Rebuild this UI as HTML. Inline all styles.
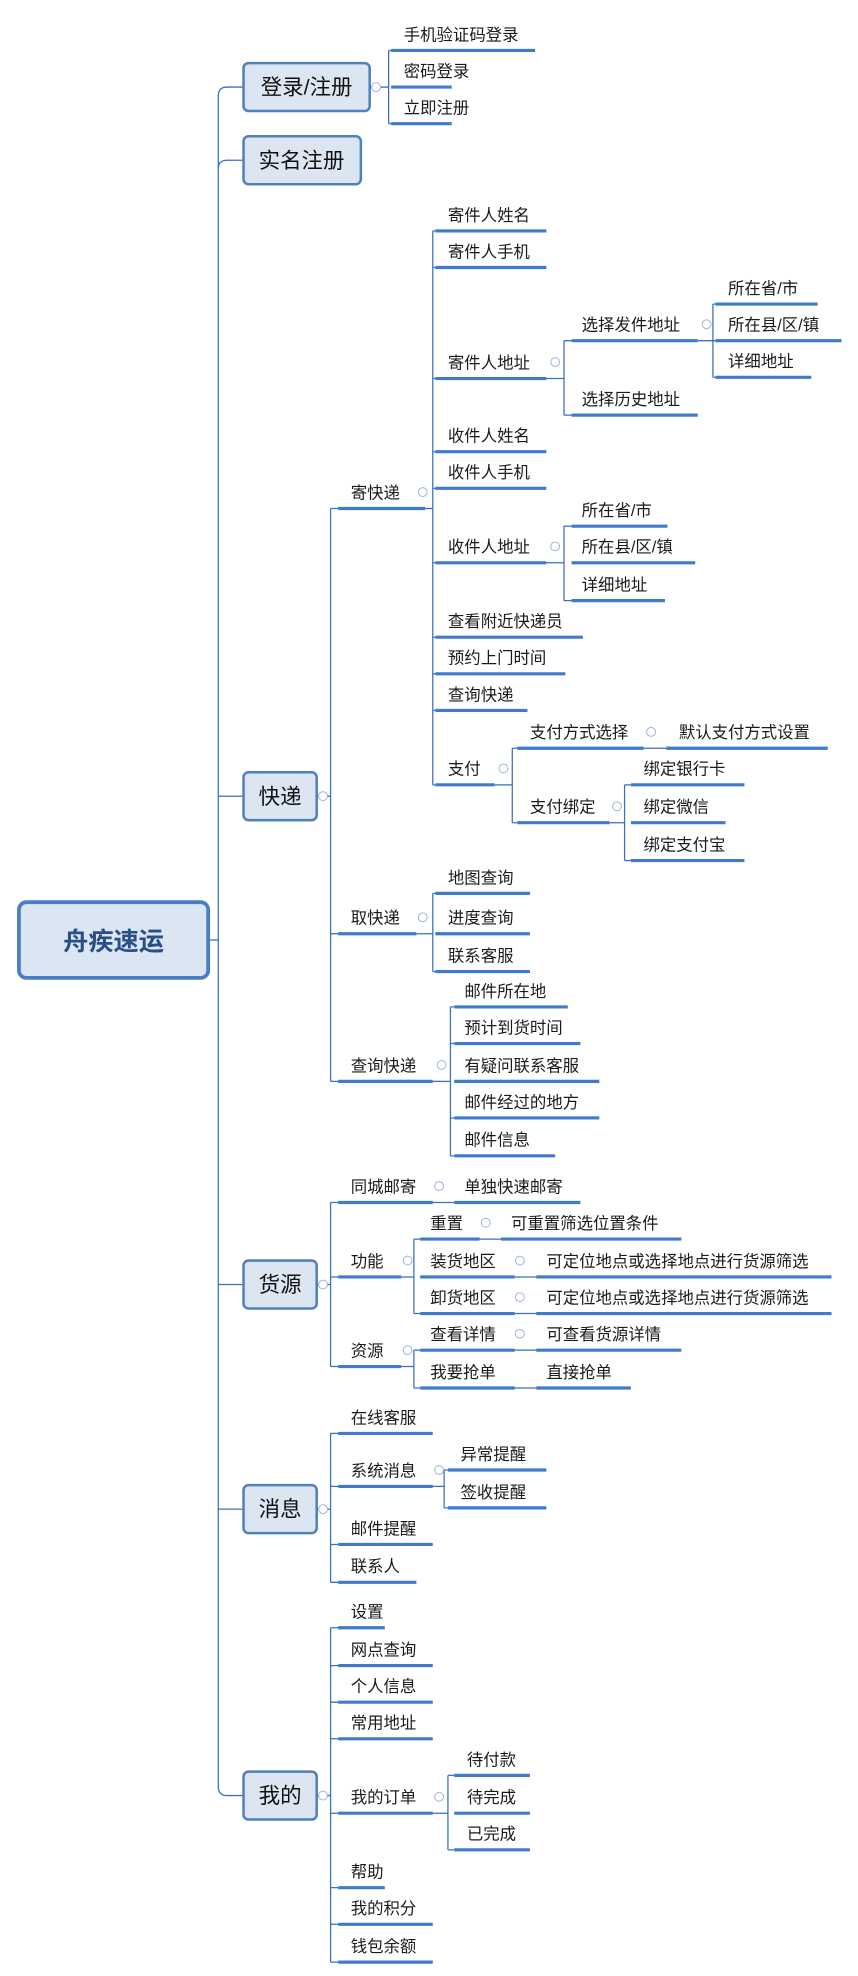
<!DOCTYPE html>
<html><head><meta charset="utf-8"><style>
html,body{margin:0;padding:0;background:#fff;}
svg{display:block;}
text{font-family:"Liberation Sans","Noto Sans CJK SC",sans-serif;font-size:13px;fill:#1a1a1a;}
.u{stroke:#3f7bcc;stroke-width:2.5;fill:none;}
.c{stroke:#3a6fc0;stroke-width:1;fill:none;}
.b{fill:#dce6f2;stroke:#4f81bd;stroke-width:2;}
.bt{font-size:17px;fill:#111;}
.o{fill:#fff;stroke:#9db4dc;stroke-width:0.8;}
</style></head><body>
<svg width="858" height="1976" viewBox="0 0 680 1566" preserveAspectRatio="none" xmlns="http://www.w3.org/2000/svg">
<!-- trunk -->
<path class="c" d="M165 745 H173 M173 76 V1416 M173 76 Q173 69 180 69 H193 M173 134 Q173 127 180 127 H193 M173 631 H193 M173 1018 H193 M173 1196 H193 M173 1416 Q173 1423 180 1423 H193"/>
<!-- root -->
<rect x="15" y="715" width="150" height="60" rx="6" fill="#dce6f2" stroke="#4a7ec4" stroke-width="3"/>
<text x="90" y="753" text-anchor="middle" style="font-size:20px;font-weight:bold;fill:#2a4f86">舟疾速运</text>
<!-- level1 boxes -->
<rect class="b" x="193" y="50" width="100" height="38" rx="4"/><text class="bt" x="243" y="75" text-anchor="middle">登录/注册</text>
<rect class="b" x="193" y="108" width="93" height="38" rx="4"/><text class="bt" x="239" y="133" text-anchor="middle">实名注册</text>
<rect class="b" x="193" y="612" width="58" height="38" rx="4"/><text class="bt" x="222" y="637" text-anchor="middle">快递</text>
<rect class="b" x="193" y="999" width="58" height="38" rx="4"/><text class="bt" x="222" y="1024" text-anchor="middle">货源</text>
<rect class="b" x="193" y="1177" width="58" height="38" rx="4"/><text class="bt" x="222" y="1202" text-anchor="middle">消息</text>
<rect class="b" x="193" y="1404" width="58" height="38" rx="4"/><text class="bt" x="222" y="1429" text-anchor="middle">我的</text>

<!-- connectors -->
<path class="c" d="
M293 69 H308 M308 40 V98 M308 40 H310 M308 98 H310
M251 631 H262 M262 403 V857 M262 403 H268 M262 740 H268 M262 857 H268
M337 403 H343 M343 183 V622 M343 183 H345 M343 212 H345 M343 300 H345 M343 358 H345 M343 387 H345 M343 446 H345 M343 505 H345 M343 534 H345 M343 563 H345 M343 622 H345
M433 300 H447 M447 270 V329 M447 270 H453 M447 329 H453
M553 270 H567 M565 241 V299 M565 241 H567 M565 299 H567
M433 446 H447 M447 417 V476 M447 417 H453 M447 476 H453
M392 622 H406 M406 593 V652 M406 593 H410 M406 652 H410
M510 593 H528
M483 652 H495 M495 622 V682 M495 622 H500 M495 682 H500
M330 740 H343 M343 708 V770 M343 708 H345 M343 770 H345
M343 857 H357 M357 798 V916 M357 798 H360 M357 827 H360 M357 886 H360 M357 916 H360
M251 1018 H262 M262 953 V1083 M262 953 H268 M262 1012 H268 M262 1083 H268
M343 953 H360
M318 1012 H328 M328 982 V1041 M328 982 H333 M328 1041 H333
M380 982 H397 M408 1012 H425 M408 1041 H425
M318 1083 H328 M328 1070 V1100 M328 1070 H333 M328 1100 H333
M408 1070 H425 M408 1100 H425
M251 1196 H262 M262 1136 V1254 M262 1136 H268 M262 1178 H268 M262 1224 H268 M262 1254 H268
M343 1178 H352 M352 1165 V1195 M352 1165 H355 M352 1195 H355
M251 1423 H262 M262 1290 V1555 M262 1290 H268 M262 1320 H268 M262 1349 H268 M262 1378 H268 M262 1437 H268 M262 1496 H268 M262 1525 H268 M262 1555 H268
M343 1437 H355 M355 1407 V1466 M355 1407 H360 M355 1466 H360
"/>

<!-- collapse circles -->
<g class="o">
<circle cx="298" cy="69" r="3.5"/><circle cx="256" cy="631" r="3.5"/><circle cx="335" cy="390" r="3.5"/>
<circle cx="440" cy="287" r="3.5"/><circle cx="560" cy="257" r="3.5"/><circle cx="440" cy="433" r="3.5"/>
<circle cx="399" cy="609" r="3.5"/><circle cx="516" cy="580" r="3.5"/><circle cx="489" cy="639" r="3.5"/>
<circle cx="335" cy="727" r="3.5"/><circle cx="350" cy="844" r="3.5"/>
<circle cx="256" cy="1018" r="3.5"/><circle cx="348" cy="940" r="3.5"/><circle cx="323" cy="999" r="3.5"/>
<circle cx="385" cy="969" r="3.5"/><circle cx="412" cy="999" r="3.5"/><circle cx="412" cy="1028" r="3.5"/>
<circle cx="323" cy="1070" r="3.5"/><circle cx="412" cy="1057" r="3.5"/>
<circle cx="256" cy="1196" r="3.5"/><circle cx="348" cy="1165" r="3.5"/>
<circle cx="256" cy="1423" r="3.5"/><circle cx="348" cy="1424" r="3.5"/>
</g>

<!-- underlines -->
<path class="u" d="
M310 40 H424 M310 69 H358 M310 98 H358
M268 403 H337 M345 183 H433 M345 212 H433 M345 300 H433 M453 270 H553 M567 241 H648 M567 270 H667 M567 299 H643 M453 329 H553
M345 358 H433 M345 387 H433 M345 446 H433 M453 417 H529 M453 446 H551 M453 476 H527
M345 505 H462 M345 534 H448 M345 563 H418 M345 622 H392
M410 593 H510 M528 593 H656 M410 652 H483 M500 622 H590 M500 652 H575 M500 682 H590
M268 740 H330 M345 708 H420 M345 740 H420 M345 770 H420
M268 857 H343 M360 798 H450 M360 827 H460 M360 857 H475 M360 886 H475 M360 916 H440
M268 953 H343 M360 953 H460 M268 1012 H318 M333 982 H380 M397 982 H540 M333 1012 H408 M425 1012 H659 M333 1041 H408 M425 1041 H659
M268 1083 H318 M333 1070 H408 M425 1070 H540 M333 1100 H408 M425 1100 H500
M268 1136 H343 M268 1178 H343 M355 1165 H433 M355 1195 H433 M268 1224 H343 M268 1254 H330
M268 1290 H305 M268 1320 H343 M268 1349 H343 M268 1378 H343 M268 1437 H343 M360 1407 H420 M360 1437 H420 M360 1466 H420
M268 1496 H305 M268 1525 H343 M268 1555 H343
"/>

<!-- texts -->
<text x="320" y="32">手机验证码登录</text><text x="320" y="61">密码登录</text><text x="320" y="90">立即注册</text>
<text x="278" y="395">寄快递</text>
<text x="355" y="175">寄件人姓名</text><text x="355" y="204">寄件人手机</text><text x="355" y="292">寄件人地址</text>
<text x="461" y="262">选择发件地址</text><text x="577" y="233">所在省/市</text><text x="577" y="262">所在县/区/镇</text><text x="577" y="291">详细地址</text>
<text x="461" y="321">选择历史地址</text>
<text x="355" y="350">收件人姓名</text><text x="355" y="379">收件人手机</text><text x="355" y="438">收件人地址</text>
<text x="461" y="409">所在省/市</text><text x="461" y="438">所在县/区/镇</text><text x="461" y="468">详细地址</text>
<text x="355" y="497">查看附近快递员</text><text x="355" y="526">预约上门时间</text><text x="355" y="555">查询快递</text><text x="355" y="614">支付</text>
<text x="420" y="585">支付方式选择</text><text x="538" y="585">默认支付方式设置</text><text x="420" y="644">支付绑定</text>
<text x="510" y="614">绑定银行卡</text><text x="510" y="644">绑定微信</text><text x="510" y="674">绑定支付宝</text>
<text x="278" y="732">取快递</text><text x="355" y="700">地图查询</text><text x="355" y="732">进度查询</text><text x="355" y="762">联系客服</text>
<text x="278" y="849">查询快递</text><text x="368" y="790">邮件所在地</text><text x="368" y="819">预计到货时间</text><text x="368" y="849">有疑问联系客服</text><text x="368" y="878">邮件经过的地方</text><text x="368" y="908">邮件信息</text>
<text x="278" y="945">同城邮寄</text><text x="368" y="945">单独快速邮寄</text>
<text x="278" y="1004">功能</text><text x="341" y="974">重置</text><text x="405" y="974">可重置筛选位置条件</text>
<text x="341" y="1004">装货地区</text><text x="433" y="1004">可定位地点或选择地点进行货源筛选</text>
<text x="341" y="1033">卸货地区</text><text x="433" y="1033">可定位地点或选择地点进行货源筛选</text>
<text x="278" y="1075">资源</text><text x="341" y="1062">查看详情</text><text x="433" y="1062">可查看货源详情</text>
<text x="341" y="1092">我要抢单</text><text x="433" y="1092">直接抢单</text>
<text x="278" y="1128">在线客服</text><text x="278" y="1170">系统消息</text><text x="365" y="1157">异常提醒</text><text x="365" y="1187">签收提醒</text>
<text x="278" y="1216">邮件提醒</text><text x="278" y="1246">联系人</text>
<text x="278" y="1282">设置</text><text x="278" y="1312">网点查询</text><text x="278" y="1341">个人信息</text><text x="278" y="1370">常用地址</text>
<text x="278" y="1429">我的订单</text><text x="370" y="1399">待付款</text><text x="370" y="1429">待完成</text><text x="370" y="1458">已完成</text>
<text x="278" y="1488">帮助</text><text x="278" y="1517">我的积分</text><text x="278" y="1547">钱包余额</text>
</svg>
</body></html>
